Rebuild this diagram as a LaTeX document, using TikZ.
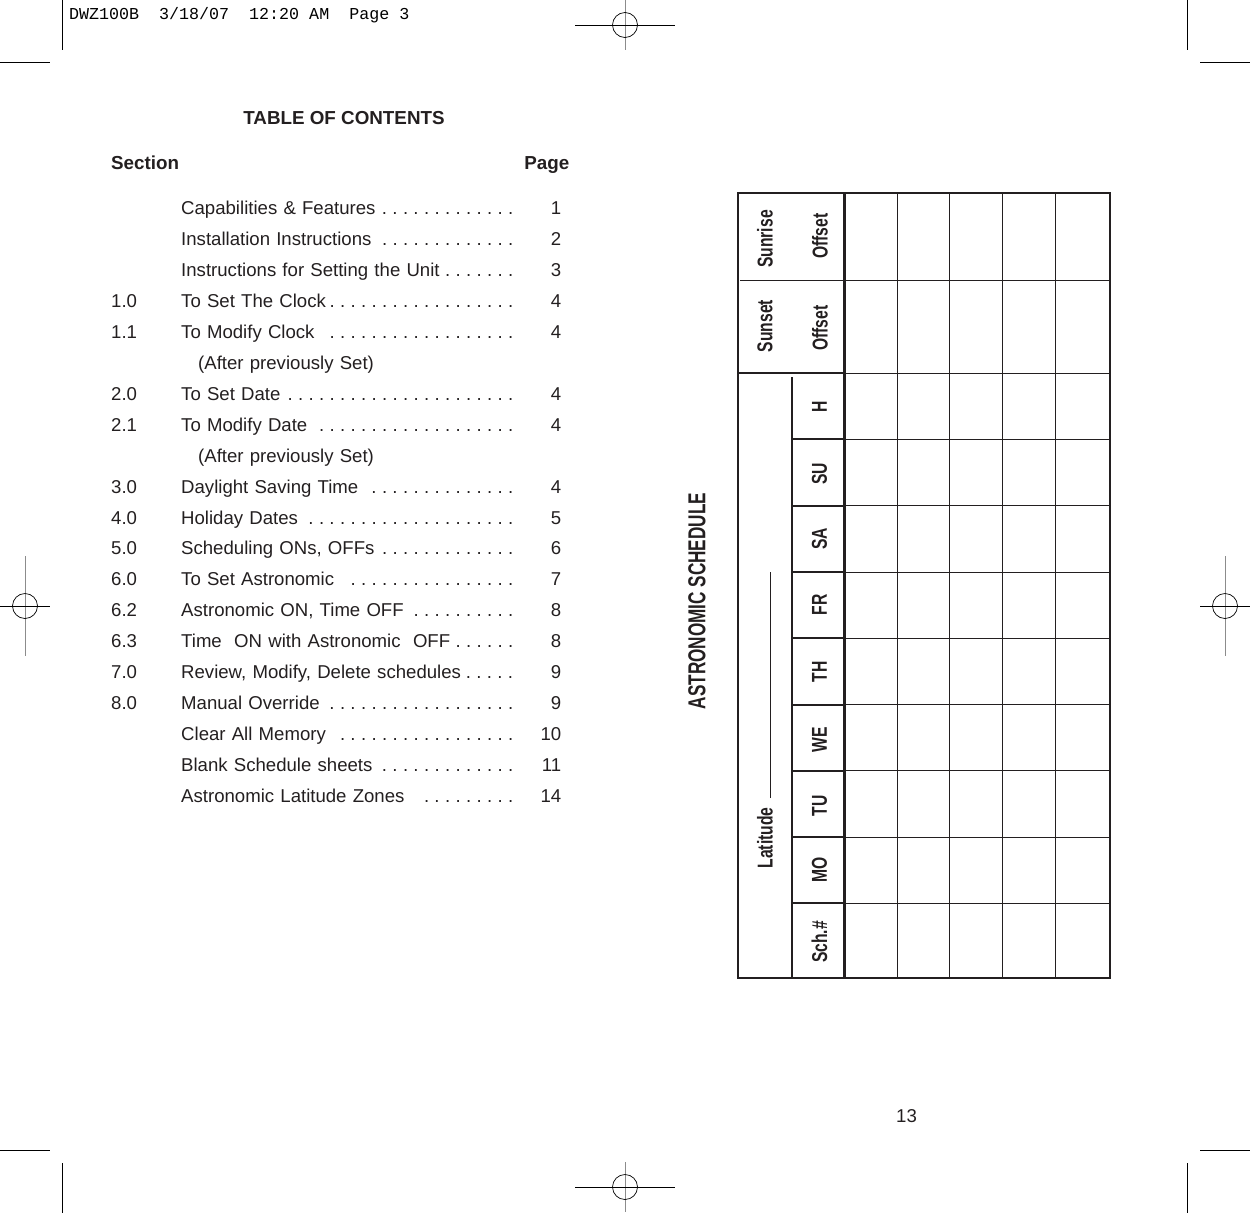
\documentclass[tikz,border=0pt]{standalone}
\usepackage{fontspec}
\setmainfont{Liberation Sans}
\setmonofont{Liberation Mono}
\newfontfamily\condfont[FakeStretch=0.73]{Liberation Sans}
\newfontfamily\schedfont[FakeStretch=0.7]{Liberation Sans}
\usetikzlibrary{matrix}
\definecolor{ink}{HTML}{231F20}
\newcommand{\tocdots}[1]{\hfill\hspace{-8pt}\foreach \n in {1,...,#1}{\makebox[10.5pt][r]{.}}}
\tikzset{
  x=1pt, y=-1pt,
  thinline/.style={draw=ink, line width=1pt},
  midline/.style={draw=ink, line width=2pt},
  heavyline/.style={draw=ink, line width=3pt},
  cropline/.style={draw=black, line width=1pt},
  regline/.style={draw=black!45, line width=1pt},
  plainlabel/.style={inner sep=0pt, text=ink, font=\fontsize{18.6}{22}\selectfont},
  headlabel/.style={plainlabel, font=\fontsize{18.8}{22}\selectfont\bfseries},
  daylabel/.style={inner sep=0pt, rotate=90, text=ink, font=\fontsize{21.5}{26}\selectfont\condfont\bfseries},
}
\begin{document}
\begin{tikzpicture}
\useasboundingbox (0,0) rectangle (1250,1213);

\node[plainlabel, anchor=west, font=\fontsize{16.67}{20}\selectfont\ttfamily, text=black] (slug) at (69,15) {DWZ100B\ \ 3/18/07\ \ 12:20 AM\ \ Page 3};
\node[headlabel] (title) at (344,118) {TABLE OF CONTENTS};
\node[headlabel, anchor=base west] (section) at (111,169) {Section};
\node[headlabel, anchor=base east] (page) at (569.5,169) {Page};
\node[plainlabel] (folio) at (906.5,1116) {13};

\matrix (toc) [matrix of nodes, nodes in empty cells, anchor=north west, inner sep=0pt, row sep=12.95pt, column sep=0pt,
  nodes={plainlabel, text height=14pt, text depth=4pt},
  column 1/.style={nodes={text width=70pt, align=left}},
  column 2/.style={nodes={text width=332pt, align=left}},
  column 3/.style={nodes={text width=48pt, align=right}}] at (111,200.3) {
 & Capabilities \& Features\tocdots{13} & 1 \\
 & Installation Instructions\tocdots{13} & 2 \\
 & Instructions for Setting the Unit\tocdots{7} & 3 \\
1.0 & To Set The Clock\tocdots{18} & 4 \\
1.1 & To Modify Clock\tocdots{18} & 4 \\
 & \hspace*{17pt}(After previously Set) & \\
2.0 & To Set Date\tocdots{22} & 4 \\
2.1 & To Modify Date\tocdots{19} & 4 \\
 & \hspace*{17pt}(After previously Set) & \\
3.0 & Daylight Saving Time\tocdots{14} & 4 \\
4.0 & Holiday Dates\tocdots{20} & 5 \\
5.0 & Scheduling ONs, OFFs\tocdots{13} & 6 \\
6.0 & To Set Astronomic\tocdots{16} & 7 \\
6.2 & Astronomic ON, Time OFF\tocdots{10} & 8 \\
6.3 & Time\ \ ON with Astronomic\ \ OFF\tocdots{6} & 8 \\
7.0 & Review, Modify, Delete schedules\tocdots{5} & 9 \\
8.0 & Manual Override\tocdots{18} & 9 \\
 & Clear All Memory\tocdots{17} & 10 \\
 & Blank Schedule sheets\tocdots{13} & 11 \\
 & Astronomic Latitude Zones\tocdots{9} & 14 \\
};

\foreach \xa/\ya/\xc/\yc in {62/0/0/62, 1187/0/1200/62, 62/1163/0/1150, 1187/1163/1200/1150} {
  \draw[cropline] (\xa,\ya) -- (\xa,\ya+50);
  \draw[cropline] (\xc,\yc) -- (\xc+50,\yc);
}
\foreach \cx/\cy/\hw/\hh in {625/25/50/25, 25/606/25/50, 1225/606/25/50, 625/1187/50/25} {
  \draw[regline] (\cx,\cy-\hh) -- (\cx,\cy+\hh);
  \draw[cropline] (\cx-\hw,\cy) -- (\cx+\hw,\cy);
  \draw[draw=black, line width=0.7pt] (\cx,\cy) circle (12.5);
}

\foreach \x in {897,949,1002,1055}
  \draw[thinline] (\x,193) -- (\x,978);
\foreach \y in {280,373,439,505.5,572,638,704.5,770.5,837,903}
  \draw[thinline] (844,\y) -- (1110,\y);
\foreach \y in {439,505.5,572,638,704.5,770.5,837,903}
  \draw[midline] (792,\y) -- (844,\y);
\draw[thinline] (740,280) -- (844,280);
\draw[midline] (792,377) -- (792,978);
\draw[heavyline] (844,193) -- (844,978);
\draw[midline] (738,373) -- (844,373);
\draw[midline] (738,193) rectangle (1110,978);

\node[daylabel] (schedule) at (697,601) {\fontsize{24.5}{29}\selectfont\schedfont\bfseries ASTRONOMIC SCHEDULE};
\node[daylabel] (sunrise) at (765,239) {Sunrise};
\node[daylabel] (sunset) at (765,326) {Sunset};
\node[daylabel] (offset-a) at (820,236) {Offset};
\node[daylabel] (offset-b) at (820,328) {Offset};
\node[daylabel] (latitude) at (765,838) {Latitude};
\coordinate (latend) at (770,572);
\draw[thinline] (770,798) -- (latend);
\foreach \y/\lab [count=\i] in {407/H, 474/SU, 539/SA, 605/FR, 672/TH, 740/WE, 806/TU, 870/MO, 942/Sch.\#}
  \node[daylabel] (day-\i) at (819.5,\y) {\lab};
\end{tikzpicture}
\end{document}
